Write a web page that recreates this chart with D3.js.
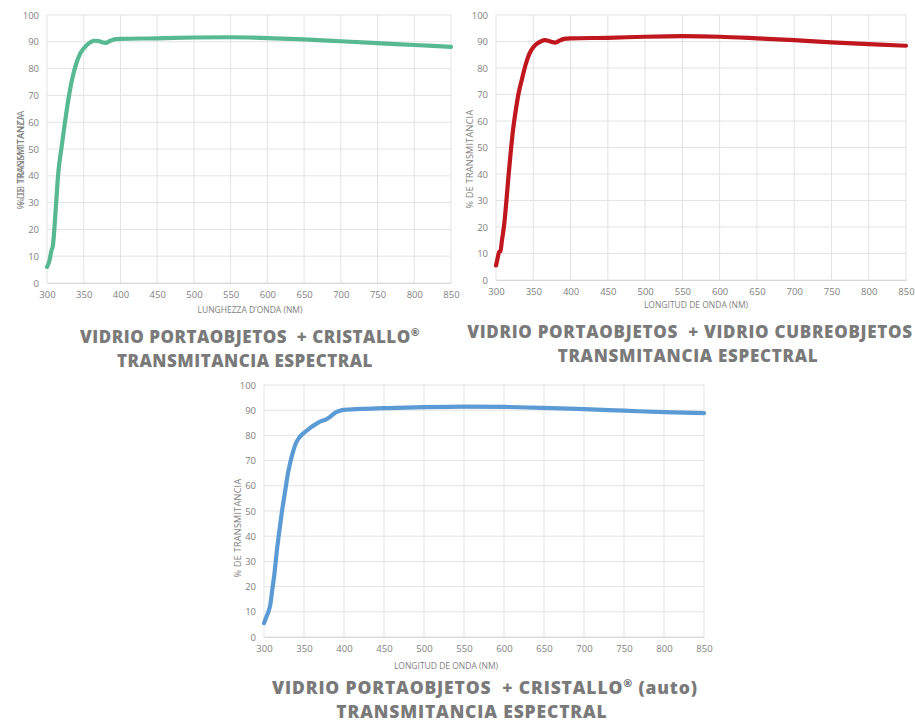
<!DOCTYPE html>
<html><head><meta charset="utf-8">
<script src="https://cdn.jsdelivr.net/npm/d3@7"></script>
<style>body{margin:0;background:#fff;} svg{display:block;} text{white-space:pre;}</style>
</head><body>
<svg id="c" width="915" height="724"></svg>
<script>
const xTicks = [300,350,400,450,500,550,600,650,700,750,800,850];
const yTicks = [0,10,20,30,40,50,60,70,80,90,100];

const greenWl = [300,303,306,308,312,315,320,325,330,335,340,345,350,355,360,365,370,375,380,385,390,395,400,450,500,550,600,650,700,750,800,850];
const greenT  = [6,8,12,14,28,40,51,61,70,77,82,85.5,87.5,89,90,90.4,90.3,89.8,89.6,90.2,90.8,91,91.1,91.3,91.6,91.7,91.4,90.9,90.2,89.5,88.8,88.1];

const redWl = [300,302,304,306,308,311,314,317,320,323,326,330,335,340,345,350,355,360,365,370,375,380,385,390,395,400,450,500,550,600,650,700,750,800,850];
const redT  = [5.5,8,10.5,11,15,21,30,40,49,57,63,70,76,81.5,85.5,87.8,89.2,90,90.5,90.3,89.8,89.6,90.3,90.9,91.1,91.2,91.4,91.8,92,91.8,91.2,90.5,89.7,89,88.4];

const blueWl = [300,303,306,308,310,313,316,320,323,326,330,335,340,345,350,355,360,365,370,375,380,385,390,395,400,420,450,500,550,600,650,700,750,800,850];
const blueT  = [5.5,8,10.5,13,18,25,34,44,51,57,65,72,77,79.5,81,82.3,83.5,84.5,85.5,86,86.8,88,89.2,89.8,90.1,90.5,90.8,91.2,91.4,91.3,90.9,90.4,89.8,89.2,88.8];

const xTitles = ["LUNGHEZZA D\u2019ONDA (NM)", "LONGITUD DE ONDA (NM)", "LONGITUD DE ONDA (NM)"];
const yTitles = [["% DE TRANSMITANCIA", "% DI TRASMITTANZA"], ["% DE TRANSMITANCIA"], ["% DE TRANSMITANCIA"]];
const titleLine1 = ["VIDRIO PORTAOBJETOS  + CRISTALLO", "VIDRIO PORTAOBJETOS  + VIDRIO CUBREOBJETOS", "VIDRIO PORTAOBJETOS  + CRISTALLO"];
const titleSuffix = ["", null, " (auto)"];
const titleLine2 = "TRANSMITANCIA ESPECTRAL";

const charts = [
  {wl: greenWl, t: greenT, color: "#57b992", x0: 47, x1: 451, y0: 283, y1: 15,
   xtc: 250, xty: 313, ytc: 160, tc1: 250, tc2: 245, ty: 343, fs: 17, ls: 0.5, lh: 23.5},
  {wl: redWl, t: redT, color: "#c0161e", x0: 496, x1: 906, y0: 280, y1: 15,
   xtc: 696, xty: 308, ytc: 159, tc1: 690, tc2: 688, ty: 338, fs: 17, ls: 0.7, lh: 23.5},
  {wl: blueWl, t: blueT, color: "#5b9bd5", x0: 264, x1: 704, y0: 637, y1: 385,
   xtc: 446, xty: 669, ytc: 528, tc1: 485, tc2: 472, ty: 694, fs: 17.5, ls: 0.85, lh: 24}
];

const svg = d3.select("#c");
const grey = "#7f7f7f";

charts.forEach((c, i) => {
  const x = d3.scaleLinear().domain([300,850]).range([c.x0, c.x1]);
  const y = d3.scaleLinear().domain([0,100]).range([c.y0, c.y1]);
  const g = svg.append("g");
  g.selectAll(".hg").data(yTicks).join("line")
    .attr("x1", c.x0).attr("x2", c.x1).attr("y1", d=>y(d)).attr("y2", d=>y(d))
    .attr("stroke", "#e3e3e3").attr("stroke-width", 1);
  g.selectAll(".vg").data(xTicks).join("line")
    .attr("y1", c.y0).attr("y2", c.y1).attr("x1", d=>x(d)).attr("x2", d=>x(d))
    .attr("stroke", "#e3e3e3").attr("stroke-width", 1);
  const xa = g.append("g").attr("transform", `translate(0,${c.y0})`)
    .call(d3.axisBottom(x).tickValues(xTicks).tickSize(0).tickPadding(8).tickFormat(d3.format("d")));
  xa.select(".domain").attr("stroke", "#d9d9d9");
  xa.selectAll("text").attr("fill", grey).style("font-family", "Open Sans, sans-serif").style("font-size", "9.5px");
  const ya = g.append("g").attr("transform", `translate(${c.x0},0)`)
    .call(d3.axisLeft(y).tickValues(yTicks).tickSize(0).tickPadding(8).tickFormat(d3.format("d")));
  ya.select(".domain").remove();
  ya.selectAll("text").attr("fill", grey).style("font-family", "Open Sans, sans-serif").style("font-size", "9.5px");
  g.append("text").attr("x", c.xtc).attr("y", c.xty)
    .attr("text-anchor", "middle").attr("fill", grey)
    .style("font-family", "Open Sans, sans-serif").style("font-size", "8.5px").text(xTitles[i]);
  const yt = g.append("text").attr("transform", `translate(${c.x0-23},${c.ytc}) rotate(-90)`)
    .attr("text-anchor", "middle").attr("fill", grey)
    .style("font-family", "Open Sans, sans-serif").style("font-size", "9px").style("letter-spacing", "0.3px");
  yTitles[i].forEach(t => yt.append("tspan").attr("x", 0).attr("y", 0).text(t));
  const pts = c.wl.map((w,k)=>[w, c.t[k]]);
  g.append("path").datum(pts)
    .attr("d", d3.line().x(d=>x(d[0])).y(d=>y(d[1])).curve(d3.curveMonotoneX))
    .attr("fill", "none").attr("stroke", c.color).attr("stroke-width", 4.2)
    .attr("stroke-linejoin", "round").attr("stroke-linecap", "round");
  const t1 = svg.append("text").attr("y", c.ty).attr("text-anchor", "middle")
    .attr("fill", "#7a7a7a").style("font-family", "Open Sans, sans-serif")
    .style("font-weight", "800").style("font-size", c.fs + "px").style("letter-spacing", c.ls + "px");
  const l1 = t1.append("tspan").attr("x", c.tc1).attr("y", c.ty);
  l1.append("tspan").text(titleLine1[i]);
  if (titleSuffix[i] !== null) {
    l1.append("tspan").attr("dy", -7).style("font-size", (c.fs*0.62) + "px").text("\u00AE");
    l1.append("tspan").attr("dy", 7).text(titleSuffix[i]);
  }
  t1.append("tspan").attr("x", c.tc2).attr("y", c.ty + c.lh).text(titleLine2);
});
</script>
</body></html>
